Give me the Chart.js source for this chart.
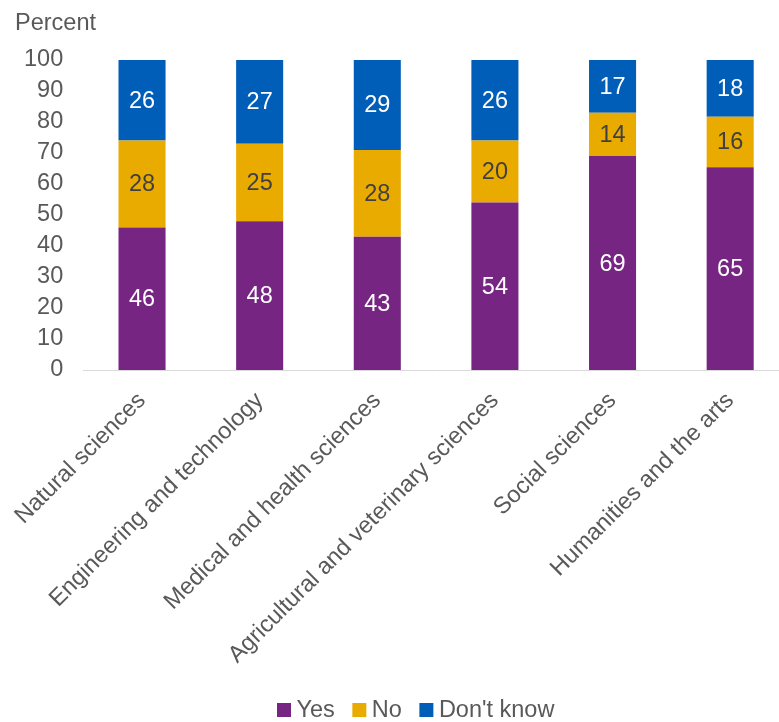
<!DOCTYPE html>
<html>
<head>
<meta charset="utf-8">
<script src="https://cdn.jsdelivr.net/npm/chart.js@4/dist/chart.umd.min.js"></script>
<style>
html,body{margin:0;padding:0;overflow:hidden;background:#fff;}
#wrap{width:790px;height:722px;}
</style>
</head>
<body>
<div id="wrap"><canvas id="c" width="790" height="722"></canvas></div>
<script>
const categories = ["Natural sciences","Engineering and technology","Medical and health sciences","Agricultural and veterinary sciences","Social sciences","Humanities and the arts"];
const yesValues = [46,48,43,54,69,65.4];
const noValues = [28,25,28,20,14,16.3];
const dontKnowValues = [26,27,29,26,17,18.3];
const yTicks = [0,10,20,30,40,50,60,70,80,90,100];

const FONT = "'Liberation Sans', Arial, sans-serif";
const GREY = "#595959";
const FS = 23.5;

const labelPlugin = {
  id: 'barLabels',
  afterDatasetsDraw(chart) {
    const ctx = chart.ctx;
    ctx.save();
    ctx.font = FS + "px " + FONT;
    ctx.textAlign = 'center';
    ctx.textBaseline = 'middle';
    chart.data.datasets.forEach((ds, di) => {
      const meta = chart.getDatasetMeta(di);
      meta.data.forEach((el, i) => {
        ctx.fillStyle = ds.labelColor;
        ctx.fillText(String(Math.round(ds.data[i])), el.x, (el.y + el.base) / 2 + 1);
      });
    });
    // axis title
    ctx.fillStyle = GREY;
    ctx.textAlign = 'left';
    ctx.textBaseline = 'alphabetic';
    ctx.fillText('Percent', 15, 30);
    // legend
    let x = 277;
    const yc = 710;
    ctx.textBaseline = 'middle';
    chart.data.datasets.forEach((ds) => {
      ctx.fillStyle = ds.backgroundColor;
      ctx.fillRect(x, yc - 7, 14, 14);
      x += 14 + 5.5;
      ctx.fillStyle = GREY;
      ctx.fillText(ds.label, x, yc + 1);
      x += ctx.measureText(ds.label).width + 17.5;
    });
    ctx.restore();
  }
};

new Chart(document.getElementById('c'), {
  type: 'bar',
  data: {
    labels: categories,
    datasets: [
      {label: 'Yes', data: yesValues, backgroundColor: '#772583', labelColor: '#ffffff'},
      {label: 'No', data: noValues, backgroundColor: '#EAAB00', labelColor: '#404040'},
      {label: "Don't know", data: dontKnowValues, backgroundColor: '#005EB8', labelColor: '#ffffff'}
    ]
  },
  options: {
    responsive: false,
    animation: false,
    layout: {padding: {left: 4, right: 1, top: 60, bottom: 31}},
    datasets: {bar: {barPercentage: 0.4, categoryPercentage: 1.0, borderWidth: 0}},
    plugins: {
      legend: {display: false},
      tooltip: {enabled: false}
    },
    scales: {
      x: {
        stacked: true,
        grid: {display: false, drawTicks: false},
        border: {display: true, color: '#d9d9d9', width: 1},
        ticks: {color: GREY, font: {family: FONT, size: FS}, maxRotation: 45, minRotation: 45, padding: 17, autoSkip: false},
        afterFit(scale) { scale.paddingLeft = 0; scale.paddingRight = 0; scale.height = 321; }
      },
      y: {
        stacked: true,
        min: 0, max: 100,
        afterBuildTicks(axis) { axis.ticks = yTicks.map(v => ({value: v})); },
        grid: {display: false, drawTicks: false},
        border: {display: false},
        ticks: {color: GREY, font: {family: FONT, size: FS}, padding: 20, autoSkip: false},
        afterFit(scale) { scale.paddingTop = 0; scale.paddingBottom = 0; }
      }
    }
  },
  plugins: [labelPlugin]
});
</script>
</body>
</html>
